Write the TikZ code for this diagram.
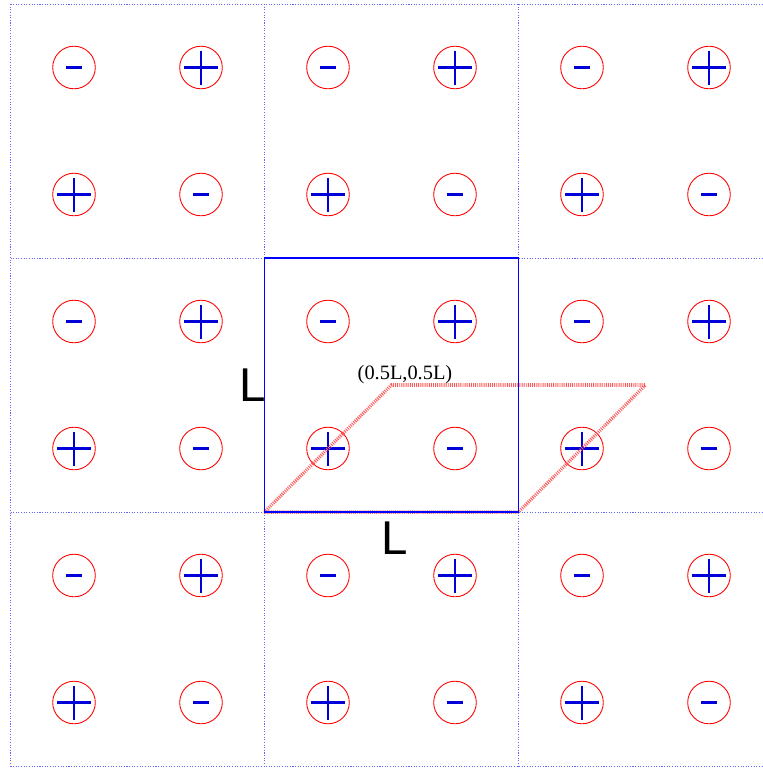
\documentclass[tikz,border=0pt]{standalone}
\usepackage{fontspec}
\setmainfont{Liberation Serif}
\newfontfamily\lsans{Liberation Sans}
\begin{document}
\begin{tikzpicture}[x=0.02cm,y=-0.02cm,
  gridline/.style={blue!60,line width=0.4pt,dash pattern=on 0.6pt off 0.9pt},
  cellbox/.style={blue,line width=0.6pt},
  shiftpath/.style={red!65,line width=2pt,dash pattern=on 0.55pt off 0.65pt},
  charge/.style={circle,draw=red,line width=0.5pt,minimum size=0.852cm,inner sep=0pt},
  sign/.style={blue!85!black,line width=1.2pt},
  biglabel/.style={font=\lsans\fontsize{27}{30}\selectfont,inner sep=0pt},
  coordlabel/.style={font=\fontsize{11.6}{13}\selectfont,inner sep=0pt}]
\useasboundingbox (0,0) rectangle (763,768);
% grid
\foreach \x in {10.5,264.5,518.5} \draw[gridline] (\x,4) -- (\x,766);
\foreach \y in {4,258,512,766} \draw[gridline] (10.5,\y) -- (763,\y);
% charges
\foreach \i in {0,...,5} {
  \foreach \j in {0,...,5} {
    \pgfmathtruncatemacro{\qparity}{mod(\i+\j,2)}
    \node[charge] (q-\i-\j) at ({74+127*\i},{67.5+127*\j}) {};
    \ifnum\qparity=1
      \draw[sign] ([xshift=-0.34cm]q-\i-\j.center) -- ([xshift=0.34cm]q-\i-\j.center);
      \draw[sign] ([yshift=-0.34cm]q-\i-\j.center) -- ([yshift=0.34cm]q-\i-\j.center);
    \else
      \draw[sign] ([xshift=-0.16cm]q-\i-\j.center) -- ([xshift=0.16cm]q-\i-\j.center);
    \fi
  }
}
% unit cell
\coordinate (A) at (264.5,512);
\coordinate (B) at (518.5,512);
\coordinate (C) at (518.5,258);
\coordinate (D) at (264.5,258);
\coordinate (E) at (645.5,385);
\coordinate (F) at (391.5,385);
\draw[shiftpath] (A) -- (B) -- (E) -- (F) -- cycle;
\draw[cellbox] (A) -- (B) -- (C) -- (D) -- cycle;
\node[biglabel] (lleft) at (253,385) {L};
\node[biglabel] (lbottom) at (395,538) {L};
\node[coordlabel] (mid) at (405,375) {(0.5L,0.5L)};
\end{tikzpicture}
\end{document}
